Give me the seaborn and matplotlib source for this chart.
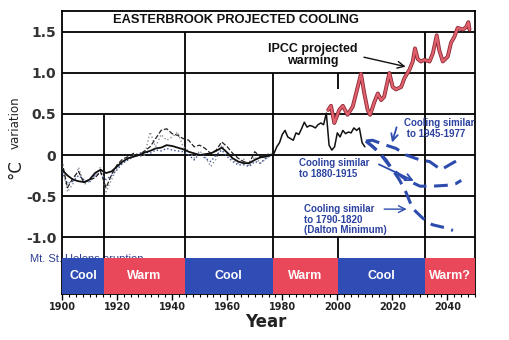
import numpy as np
import pandas as pd
import matplotlib
matplotlib.use("Agg")
import matplotlib.pyplot as plt
import seaborn as sns

# ---------------- data ----------------
hist_years = list(range(1900, 1977, 2))
hist_smooth = [-0.18,-0.25,-0.30,-0.32,-0.33,-0.30,-0.22,-0.18,-0.22,-0.20,-0.14,-0.08,-0.04,-0.02,0.00,0.03,0.05,0.08,0.09,0.12,
               0.11,0.09,0.07,0.04,0.02,0.00,0.01,0.02,0.05,0.09,0.03,-0.04,-0.08,-0.10,-0.10,-0.06,-0.03,-0.02,0.00]
hist_black_dot = [-0.08,-0.40,-0.28,-0.20,-0.34,-0.30,-0.28,-0.20,-0.40,-0.24,-0.12,-0.05,-0.02,0.02,0.00,0.05,0.10,0.20,0.30,0.32,
                  0.26,0.24,0.20,0.18,0.10,0.12,0.08,0.02,0.06,0.16,0.10,0.02,-0.04,-0.08,-0.10,0.04,-0.02,0.00,0.02]
hist_gray_dot = [-0.12,-0.45,-0.35,-0.15,-0.36,-0.32,-0.25,-0.15,-0.45,-0.30,-0.15,-0.10,-0.05,0.00,-0.02,0.00,0.28,0.10,0.25,0.18,
                 0.22,0.28,0.10,0.05,-0.04,0.05,-0.02,-0.14,-0.05,0.12,0.02,-0.06,-0.10,-0.05,-0.14,-0.02,-0.10,-0.05,0.00]
hist_blue_dot = [-0.20,-0.35,-0.32,-0.25,-0.30,-0.33,-0.25,-0.22,-0.30,-0.25,-0.18,-0.10,-0.06,-0.02,0.02,0.04,0.02,0.06,0.05,0.08,
                 0.06,0.05,0.04,0.00,-0.06,0.02,-0.04,-0.08,0.00,0.06,-0.02,-0.08,-0.12,-0.12,-0.14,-0.08,-0.10,-0.04,0.00]

recent_years = list(range(1976, 2011))
recent_vals = [0.00,0.02,0.10,0.15,0.25,0.30,0.22,0.20,0.18,0.27,0.25,0.32,0.40,0.34,0.36,0.35,0.33,0.37,0.39,0.37,
               0.51,0.12,0.06,0.10,0.27,0.22,0.30,0.26,0.28,0.27,0.33,0.30,0.33,0.15,0.10]

ipcc_years = [1996.7,1997.7,1998.9,2000.7,2002.0,2003.7,2005.6,2006.8,2008.6,2009.8,2011.0,2011.9,2013.5,2014.7,2015.9,2017.0,
              2018.9,2020.1,2021.3,2023.2,2024.4,2026.2,2027.4,2028.2,2029.2,2030.4,2031.6,2033.5,2034.7,2036.1,2037.0,2038.3,
              2040.1,2041.3,2042.5,2043.7,2045.6,2046.8,2047.6,2048.0]
ipcc_vals = [0.55,0.60,0.39,0.55,0.60,0.49,0.59,0.75,0.99,0.75,0.55,0.49,0.65,0.75,0.67,0.71,
             1.00,0.83,0.80,0.83,0.94,1.04,1.14,1.30,1.17,1.14,1.16,1.14,1.24,1.46,1.28,1.14,
             1.20,1.37,1.44,1.55,1.53,1.56,1.62,1.53]

proj_a_years = [2010.4,2012.7,2017.7,2021.3,2025.0,2030.0,2033.5,2037.7,2040.7,2044.4]
proj_a_vals = [0.17,0.18,0.12,0.08,0.00,-0.06,-0.08,-0.18,-0.12,-0.05]
proj_b_years = [2010.4,2015.0,2020.0,2025.0,2030.0,2034.5,2039.5,2043.0,2045.0]
proj_b_vals = [0.17,0.04,-0.18,-0.30,-0.38,-0.38,-0.37,-0.35,-0.31]
proj_c_years = [2010.4,2013.0,2017.7,2022.5,2025.0,2027.3,2031.0,2034.5,2039.5,2042.0]
proj_c_vals = [0.17,0.10,-0.06,-0.30,-0.46,-0.65,-0.77,-0.85,-0.89,-0.92]

band_starts = [1900, 1915.3, 1944.5, 1976.7, 2000.2, 2031.8]
band_ends = [1915.3, 1944.5, 1976.7, 2000.2, 2031.8, 2050]
band_labels = ["Cool", "Warm", "Cool", "Warm", "Cool", "Warm?"]

y_ticks = [1.5, 1.0, 0.5, 0.0, -0.5, -1.0]
y_ticklabels = ["1.5", "1.0", "0.5", "0", "-0.5", "-1.0"]
x_ticks = list(range(1900, 2041, 20))

# ---------------- style ----------------
sns.set_theme(style="white")
plt.rcParams['font.family'] = ['DejaVu Sans']

BLUE_BAND = '#2f4db5'
RED_BAND = '#e9475a'
ANN_BLUE = '#2c42a0'
PROJ_BLUE = '#2d4cae'

fig = plt.figure(figsize=(5.09, 3.40), dpi=100)
fig.patch.set_facecolor('white')
ax = fig.add_axes([62/509, 1-294/340, (475-62)/509, (294-11)/340])
YMIN, YMAX = -1.695, 1.756
BAND_TOP = -1.256
ax.set_xlim(1900, 2050)
ax.set_ylim(YMIN, YMAX)

# gridlines
ax.hlines(y_ticks, 1900, 2050, colors='black', lw=1.3, zorder=2)
# vertical dividers (at band edges)
ax.vlines(band_starts[1], BAND_TOP, 0.5, colors='black', lw=1.3, zorder=2)
ax.vlines(band_starts[2], BAND_TOP, 1.5, colors='black', lw=1.3, zorder=2)
ax.vlines(band_starts[3], BAND_TOP, 1.0, colors='black', lw=1.3, zorder=2)
ax.vlines(band_starts[4], BAND_TOP, -1.0, colors='black', lw=1.3, zorder=2)
ax.vlines(band_starts[5], BAND_TOP, 1.5, colors='black', lw=1.3, zorder=2)
ax.vlines(2000.2, 0.8, 1.0, colors='black', lw=1.3, zorder=2)

# historical lines
sns.lineplot(x=hist_years, y=hist_gray_dot, ax=ax, color='#8a8f9a', lw=1.0, linestyle=':', zorder=4)
sns.lineplot(x=hist_years, y=hist_blue_dot, ax=ax, color='#3a4f9a', lw=1.0, linestyle=':', zorder=4)
sns.lineplot(x=hist_years, y=hist_black_dot, ax=ax, color='#222222', lw=0.9, linestyle='--', dashes=(2, 1), zorder=4)
sns.lineplot(x=hist_years, y=hist_smooth, ax=ax, color='#111111', lw=1.3, zorder=5)
sns.lineplot(x=recent_years, y=recent_vals, ax=ax, color='#111111', lw=1.1, zorder=5)

# IPCC line (outlined red)
sns.lineplot(x=ipcc_years, y=ipcc_vals, ax=ax, color='#8a2a35', lw=2.8, zorder=5)
sns.lineplot(x=ipcc_years, y=ipcc_vals, ax=ax, color='#e0606c', lw=1.6, zorder=6)

# projections
for yrs, vals in [(proj_a_years, proj_a_vals), (proj_b_years, proj_b_vals), (proj_c_years, proj_c_vals)]:
    sns.lineplot(x=yrs, y=vals, ax=ax, color=PROJ_BLUE, lw=2.2, linestyle='--', zorder=6)
for l in ax.lines[-3:]:
    l.set_dashes((4.5, 2.5))

# bands
for s, e, lab in zip(band_starts, band_ends, band_labels):
    c = BLUE_BAND if lab == "Cool" else RED_BAND
    ax.bar(s, BAND_TOP - YMIN, width=e - s, bottom=YMIN, align='edge', color=c, edgecolor='none', zorder=3)
    ax.text((s + e) / 2, (BAND_TOP + YMIN) / 2, lab, color='white', fontsize=9, fontweight='bold',
            ha='center', va='center', zorder=7, family='Liberation Sans')

# Mt St Helens text (partly hidden behind band)
ax.text(1888.4, -1.265, "Mt. St. Helens eruption", color='#2d3d90', fontsize=8, ha='left', va='center',
        zorder=1, clip_on=False, family='Liberation Sans')

# title
ax.text(1963.3, 1.645, "EASTERBROOK PROJECTED COOLING", fontsize=9.3, fontweight='bold', ha='center', va='center',
        family='Liberation Sans', color='#111111')

# annotations
ax.text(1991, 1.22, "IPCC projected\nwarming", fontsize=9, fontweight='bold', ha='center', va='center',
        family='Liberation Sans', color='#111111', linespacing=1.0, zorder=8)
ax.annotate("", xy=(2025.8, 1.07), xytext=(2008.7, 1.2),
            arrowprops=dict(arrowstyle='->', color='#111111', lw=1.0), zorder=8)

ax.text(2024.3, 0.32, "Cooling similar\n to 1945-1977", fontsize=7, fontweight='bold', ha='left', va='center',
        family='Liberation Sans', color=ANN_BLUE, linespacing=1.1, zorder=8)
ax.annotate("", xy=(2019.6, 0.12), xytext=(2021.8, 0.37),
            arrowprops=dict(arrowstyle='->', color=PROJ_BLUE, lw=1.3), zorder=8)

ax.text(1986.2, -0.165, "Cooling similar\nto 1880-1915", fontsize=7, fontweight='bold', ha='left', va='center',
        family='Liberation Sans', color=ANN_BLUE, linespacing=1.1, zorder=8)
ax.annotate("", xy=(2028.7, -0.33), xytext=(2014.2, -0.1),
            arrowprops=dict(arrowstyle='->', color=PROJ_BLUE, lw=1.3), zorder=8)

ax.text(1988, -0.79, "Cooling similar\nto 1790-1820\n(Dalton Minimum)", fontsize=7, fontweight='bold', ha='left',
        va='center', family='Liberation Sans', color=ANN_BLUE, linespacing=1.05, zorder=8)
ax.annotate("", xy=(2026.2, -0.66), xytext=(2016, -0.66),
            arrowprops=dict(arrowstyle='->', color=PROJ_BLUE, lw=1.0), zorder=8)

# axes styling
for sp in ax.spines.values():
    sp.set_color('black')
    sp.set_linewidth(1.3)
ax.set_yticks(y_ticks)
ax.set_yticklabels(y_ticklabels, fontsize=10, fontweight='bold', color='#333333')
ax.tick_params(axis='y', length=0, pad=4)
ax.set_xticks(x_ticks)
ax.set_xticklabels([str(x) for x in x_ticks], fontsize=7, fontweight='bold', color='#222222')
ax.set_xticks(np.arange(1900, 2050.1, 2.5), minor=True)
ax.tick_params(axis='x', which='major', direction='out', length=4, width=1.0, color='black', pad=2, bottom=True)
ax.tick_params(axis='x', which='minor', direction='out', length=2.5, width=0.8, color='black', bottom=True)
ax.set_xlabel("")
ax.set_ylabel("")

fig.text(266/509, 1-322/340, "Year", fontsize=12, fontweight='bold', ha='center', va='center', color='#222222')
fig.text(15/509, 1-169/340, "°C", fontsize=12, rotation=90, ha='center', va='center', color='#222222')
fig.text(15/509, 1-123/340, "variation", fontsize=8.5, rotation=90, ha='center', va='center', color='#222222')

fig.savefig("out.png", dpi=100, facecolor='white')
